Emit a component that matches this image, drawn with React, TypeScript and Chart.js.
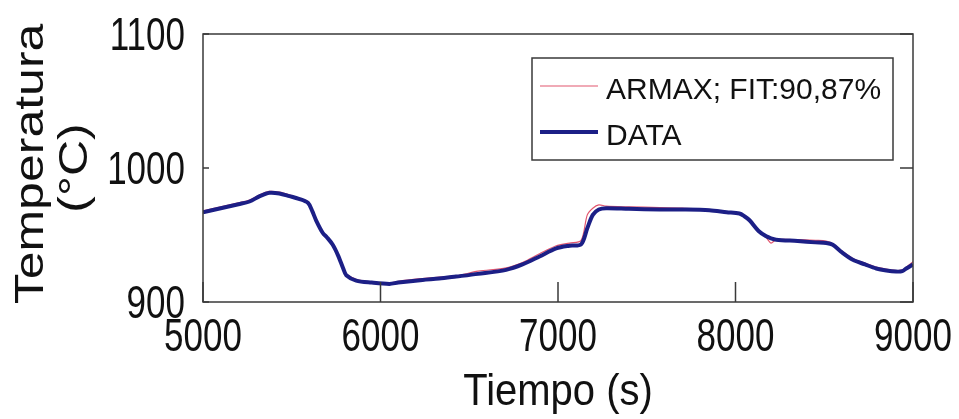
import { useEffect, useRef } from "react";
import { Chart, registerables } from "chart.js";

Chart.register(...registerables);

// Time stamps in seconds shared by both series
const timeSec = [
  5000, 5100, 5200, 5262, 5320, 5375, 5430, 5487, 5540, 5591, 5615, 5637, 5675, 5700,
  5731, 5760, 5790, 5807, 5863, 5950, 6050, 6100, 6237, 6330, 6426, 6550, 6708, 6800,
  6896, 6990, 7065, 7130, 7165, 7196, 7230, 7271, 7400, 7572, 7700, 7853, 7950, 8022,
  8050, 8079, 8130, 8173, 8200, 8229, 8350, 8450, 8511, 8548, 8600, 8661, 8730, 8793,
  8850, 8905, 8940, 8962, 9000,
];

// Measured temperature (°C)
const dataTemp = [
  967, 970, 973, 975, 979, 981.5, 981, 979, 977, 974, 968, 961, 951.5, 948,
  942.7, 935, 925, 920, 916, 914.5, 913.5, 914.5, 916.5, 917.5, 919, 921, 924, 928,
  934, 940, 942, 943, 955, 965, 969, 970, 969.5, 969, 969, 968.5, 967, 966,
  964, 961, 953, 949, 947.5, 946.5, 945.5, 944.5, 944, 942.7, 937, 931.5, 928, 925,
  923.5, 922.7, 923, 925, 928,
];

// ARMAX model output (°C)
const armaxTemp = [
  968, 971, 974, 976, 980, 982.5, 982, 980, 977.5, 975, 969, 962, 952, 948.5,
  943, 935.5, 926, 921, 917, 915, 914, 915.5, 917.5, 918.5, 919.5, 923, 925.5, 929.5,
  936, 942, 944, 946, 965, 970, 972.5, 971.5, 971, 970.5, 970, 969, 967.5, 965.5,
  964, 961, 953, 948, 944, 946.5, 946.5, 946, 945.5, 943.5, 938, 932.5, 929, 926,
  924.5, 923.5, 924, 926, 930,
];

const xTicks = [5000, 6000, 7000, 8000, 9000];
const yTicks = [900, 1000, 1100];

const armaxLabel = "ARMAX; FIT:90,87%";
const dataLabel = "DATA";
const xTitle = "Tiempo (s)";
const yTitle = ["Temperatura", "(°C)"];

const FONT = "'Liberation Sans', Arial, Helvetica, sans-serif";
const AXIS_COLOR = "#3a3a3a";
const TEXT_COLOR = "#111111";
const CAP = 0.358; // half of the digit/cap height, in em

// Draws text whose glyphs are stretched along one direction (figure text is taller than wide)
function drawStretched(
  ctx: CanvasRenderingContext2D,
  text: string,
  cx: number,
  cy: number,
  size: number,
  stretch: number,
  align: CanvasTextAlign,
  vertical = false,
) {
  ctx.save();
  ctx.font = `${size}px ${FONT}`;
  ctx.fillStyle = TEXT_COLOR;
  ctx.textAlign = align;
  ctx.textBaseline = "alphabetic";
  ctx.translate(cx, cy);
  if (vertical) {
    ctx.rotate(-Math.PI / 2);
    ctx.scale(stretch, 1);
  } else {
    ctx.scale(1, stretch);
  }
  ctx.fillText(text, 0, CAP * size);
  ctx.restore();
}

// Box around the plot area with inward tick marks, tick labels and axis titles
const axesBox = {
  id: "axesBox",
  afterDraw(chart: any) {
    const { ctx, chartArea: a, scales } = chart;
    ctx.save();
    ctx.strokeStyle = AXIS_COLOR;
    ctx.lineWidth = 1.5;
    ctx.strokeRect(a.left, a.top, a.right - a.left, a.bottom - a.top);
    ctx.beginPath();
    for (const v of xTicks) {
      const px = scales.x.getPixelForValue(v);
      ctx.moveTo(px, a.bottom);
      ctx.lineTo(px, a.bottom - 20);
    }
    for (const v of yTicks) {
      const py = scales.y.getPixelForValue(v);
      ctx.moveTo(a.left, py);
      ctx.lineTo(a.left + 6, py);
      ctx.moveTo(a.right, py);
      ctx.lineTo(a.right - 13, py);
    }
    ctx.stroke();
    ctx.restore();

    for (const v of xTicks) {
      drawStretched(ctx, String(v), scales.x.getPixelForValue(v), a.bottom + 33, 35, 1.3, "center");
    }
    for (const v of yTicks) {
      drawStretched(ctx, String(v), a.left - 18, scales.y.getPixelForValue(v), 35, 1.3, "right");
    }
    const midX = (a.left + a.right) / 2;
    const midY = (a.top + a.bottom) / 2;
    drawStretched(ctx, xTitle, midX, a.bottom + 87, 40, 1.12, "center");
    drawStretched(ctx, yTitle[0], 29, midY - 4, 40, 1.25, "center", true);
    drawStretched(ctx, yTitle[1], 73, midY, 40, 1.25, "center", true);
  },
};

// Boxed legend in the upper right of the plot area
const boxedLegend = {
  id: "boxedLegend",
  afterDraw(chart: any) {
    const { ctx, chartArea: a } = chart;
    const sets = [...chart.data.datasets].reverse();
    const w = 361;
    const h = 102;
    const left = a.right - 381;
    const top = a.top + 24;
    ctx.save();
    ctx.fillStyle = "#ffffff";
    ctx.fillRect(left, top, w, h);
    ctx.strokeStyle = AXIS_COLOR;
    ctx.lineWidth = 1.5;
    ctx.strokeRect(left, top, w, h);
    ctx.font = `30px ${FONT}`;
    ctx.textBaseline = "alphabetic";
    ctx.textAlign = "left";
    sets.forEach((ds: any, i: number) => {
      const y = top + 28 + i * 46;
      ctx.strokeStyle = ds.borderColor;
      ctx.lineWidth = ds.borderWidth;
      ctx.beginPath();
      ctx.moveTo(left + 8, y);
      ctx.lineTo(left + 66, y);
      ctx.stroke();
      ctx.fillStyle = TEXT_COLOR;
      ctx.fillText(ds.label, left + 74, y + 2 + CAP * 30);
    });
    ctx.restore();
  },
};

export default function App() {
  const ref = useRef<HTMLCanvasElement>(null);

  useEffect(() => {
    const chart = new Chart(ref.current!, {
      type: "line",
      data: {
        datasets: [
          {
            label: dataLabel,
            data: timeSec.map((t, i) => ({ x: t, y: dataTemp[i] })),
            borderColor: "#1c1f86",
            borderWidth: 4,
            pointRadius: 0,
            tension: 0.3,
          },
          {
            label: armaxLabel,
            data: timeSec.map((t, i) => ({ x: t, y: armaxTemp[i] })),
            borderColor: "#e2566e",
            borderWidth: 1.2,
            pointRadius: 0,
            tension: 0.3,
          },
        ],
      },
      options: {
        animation: false,
        responsive: false,
        devicePixelRatio: 1,
        layout: { padding: { top: 34, right: 46, left: 0, bottom: 0 } },
        plugins: {
          legend: { display: false },
          tooltip: { enabled: false },
        },
        scales: {
          x: {
            type: "linear",
            min: 5000,
            max: 9000,
            afterBuildTicks: (s: any) => {
              s.ticks = xTicks.map((v) => ({ value: v }));
            },
            afterFit: (s: any) => {
              s.height = 117;
              s.paddingLeft = 0;
              s.paddingRight = 0;
            },
            grid: { display: false, drawTicks: false },
            border: { display: false },
            ticks: { display: false },
          },
          y: {
            type: "linear",
            min: 900,
            max: 1100,
            afterBuildTicks: (s: any) => {
              s.ticks = yTicks.map((v) => ({ value: v }));
            },
            afterFit: (s: any) => {
              s.width = 203;
              s.paddingTop = 0;
              s.paddingBottom = 0;
            },
            grid: { display: false, drawTicks: false },
            border: { display: false },
            ticks: { display: false },
          },
        },
      },
      plugins: [axesBox, boxedLegend],
    });
    return () => chart.destroy();
  }, []);

  return (
    <div style={{ position: "fixed", left: 0, top: 0, width: 959, height: 419, background: "#fff" }}>
      <canvas ref={ref} width={959} height={419} style={{ width: 959, height: 419, display: "block" }} />
    </div>
  );
}
